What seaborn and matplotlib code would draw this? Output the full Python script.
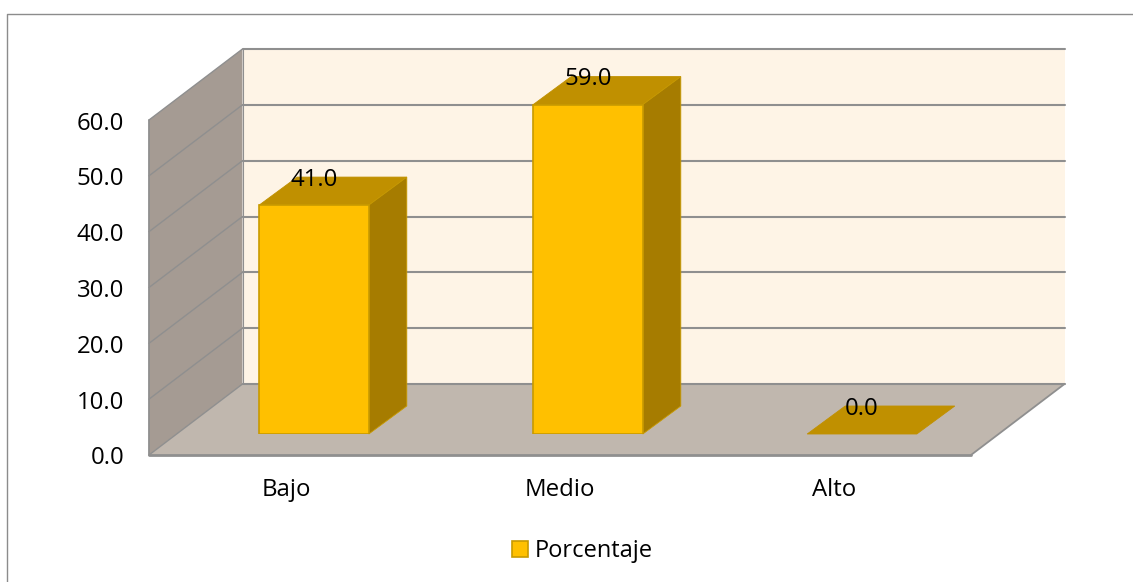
import matplotlib
matplotlib.use("Agg")
import matplotlib.pyplot as plt
from matplotlib.lines import Line2D
from matplotlib.patches import Polygon
from matplotlib.transforms import ScaledTranslation
import pandas as pd
import seaborn as sns

categories = ["Bajo", "Medio", "Alto"]
porcentaje = [41.0, 59.0, 0.0]
y_ticks = [0, 10, 20, 30, 40, 50, 60]
series_name = "Porcentaje"

WIDTH, HEIGHT = 1133, 582
FRONT = (149, 971, 455, 120)     # left, right, bottom, top of the front axis plane, px
BAR_SHIFT = (28, -21)            # bars sit this far behind the front plane, px
WALL_DEPTH = (93.5, -71)         # depth of the box, px
BAR_DEPTH = (38, -28)            # depth of a single bar, px

BACK_WALL = "#FEF4E6"
SIDE_WALL = "#A59B93"
FLOOR = "#C0B7AE"
GRID = "#8F8F8F"
BAR_FACE = "#FFC000"
BAR_TOP = "#C09000"
BAR_SIDE = "#A67C00"
BAR_EDGE = "#C89A00"

sns.set_theme(style="white")
plt.rcParams["font.family"] = ["Open Sans", "DejaVu Sans"]
plt.rcParams["text.color"] = "black"


def place_axes(fig, left, right, bottom, top):
    ax = fig.add_axes([left / WIDTH, 1 - bottom / HEIGHT,
                       (right - left) / WIDTH, (bottom - top) / HEIGHT])
    ax.patch.set_alpha(0)
    for spine in ax.spines.values():
        spine.set_visible(False)
    return ax


fig = plt.figure(figsize=(WIDTH / 100, HEIGHT / 100), dpi=100, facecolor="white")
left, right, bottom, top = FRONT

# Box: axis plane with walls and floor expressed in its own data units
ax = place_axes(fig, left, right, bottom, top)
ax.set_xlim(-0.5, 2.5)
ax.set_ylim(0, 60)
ux = 3 / (right - left)
uy = 60 / (bottom - top)
wx, wy = WALL_DEPTH[0] * ux, -WALL_DEPTH[1] * uy
x0, x1 = -0.5, 2.5
y_top = y_ticks[-1]

ax.add_patch(Polygon([(x0 + wx, wy), (x1 + wx, wy), (x1 + wx, y_top + wy), (x0 + wx, y_top + wy)],
                     facecolor=BACK_WALL, edgecolor="none", clip_on=False, zorder=1))
ax.add_patch(Polygon([(x0, 0), (x0 + wx, wy), (x0 + wx, y_top + wy), (x0, y_top)],
                     facecolor=SIDE_WALL, edgecolor="none", clip_on=False, zorder=1))
ax.add_patch(Polygon([(x0, 0), (x1, 0), (x1 + wx, wy), (x0 + wx, wy)],
                     facecolor=FLOOR, edgecolor="none", clip_on=False, zorder=1))

for tick in y_ticks:
    ax.plot([x0, x0 + wx], [tick, tick + wy], color=GRID, lw=1.0, clip_on=False, zorder=2)
    ax.plot([x0 + wx, x1 + wx], [tick + wy, tick + wy], color=GRID, lw=1.5, clip_on=False, zorder=2)
ax.plot([x0, x0], [0, y_top], color=GRID, lw=1.3, clip_on=False, zorder=2)
ax.plot([x0, x1], [0, 0], color=GRID, lw=2.0, clip_on=False, zorder=2)
ax.plot([x1, x1 + wx], [0, wy], color=GRID, lw=1.3, clip_on=False, zorder=2)
ax.plot([x0 + wx, x0 + wx], [wy, y_top + wy], color=GRID, lw=0.8, clip_on=False, zorder=2)

ax.set_xticks(range(len(categories)), categories)
ax.set_yticks(y_ticks, [f"{t:.1f}" for t in y_ticks])
ax.tick_params(axis="y", length=0, pad=18, labelsize=17.3, labelcolor="black")
ax.tick_params(axis="x", length=0, pad=16.5, labelsize=17.3, labelcolor="black")

# Nudge the value-axis labels slightly below their tick positions
nudge = ScaledTranslation(0, -0.5 / 100, fig.dpi_scale_trans)
for label in ax.get_yticklabels():
    label.set_transform(label.get_transform() + nudge)

# Bars: same scales, shifted back into the box
bar_ax = place_axes(fig, left + BAR_SHIFT[0], right + BAR_SHIFT[0],
                    bottom + BAR_SHIFT[1], top + BAR_SHIFT[1])
df = pd.DataFrame({"categoria": categories, "valor": porcentaje})
sns.barplot(data=df, x="categoria", y="valor", ax=bar_ax, width=0.4, color=BAR_FACE,
            saturation=1, edgecolor=BAR_EDGE, linewidth=1.2, label=series_name, zorder=3)
bar_ax.set_xlim(-0.5, 2.5)
bar_ax.set_ylim(0, 60)
bar_ax.set_xticks([])
bar_ax.set_yticks([])
bar_ax.set_xlabel("")
bar_ax.set_ylabel("")

dx, dy = BAR_DEPTH[0] * ux, -BAR_DEPTH[1] * uy
container = bar_ax.containers[0]
for bar in container:
    bx0, bx1 = bar.get_x(), bar.get_x() + bar.get_width()
    h = bar.get_height()
    bar_ax.add_patch(Polygon([(bx0, h), (bx1, h), (bx1 + dx, h + dy), (bx0 + dx, h + dy)],
                             facecolor=BAR_TOP, edgecolor=BAR_TOP, lw=0.6, clip_on=False, zorder=2.5))
    if h > 0:
        bar_ax.add_patch(Polygon([(bx1, 0), (bx1 + dx, dy), (bx1 + dx, h + dy), (bx1, h)],
                                 facecolor=BAR_SIDE, edgecolor=BAR_EDGE, lw=0.6, clip_on=False, zorder=2.5))
    else:
        bar.set_visible(False)

bar_ax.bar_label(container, fmt="%.1f", padding=9.5, fontsize=17.3, color="black", zorder=6)

handles, labels = bar_ax.get_legend_handles_labels()
bar_ax.legend(handles, labels, loc="center", bbox_to_anchor=(582.5 / WIDTH, 1 - 551 / HEIGHT),
              bbox_transform=fig.transFigure, frameon=False, fontsize=17,
              handlelength=0.68, handleheight=0.68, handletextpad=0.3, borderpad=0)

# Chart frame, open towards the right and bottom image edges
fig.add_artist(Line2D([6.5 / WIDTH, 6.5 / WIDTH, 1], [0, 1 - 13.5 / HEIGHT, 1 - 13.5 / HEIGHT],
                      color="#8C8C8C", lw=1.0))

fig.savefig("out.png", dpi=100)
